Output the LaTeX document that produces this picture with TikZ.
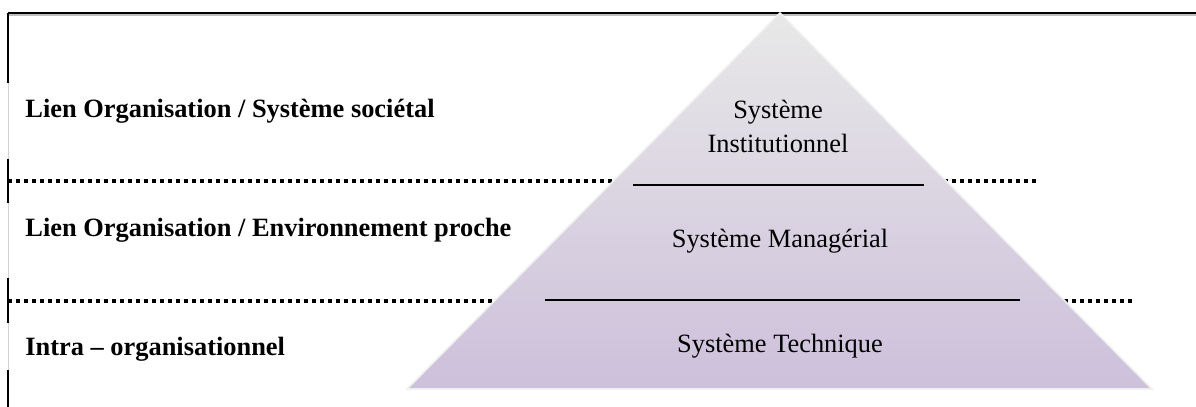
\documentclass[tikz,border=0pt]{standalone}
\usepackage{fontspec}
\setmainfont{Liberation Serif}
\begin{document}
\begin{tikzpicture}[x=0.5pt,y=-0.5pt,
  lbl/.style={anchor=base west,inner sep=0pt,font=\fontsize{13.2}{16.5}\selectfont\bfseries},
  sys/.style={anchor=base,inner sep=0pt,font=\fontsize{13.2}{16.5}\selectfont,align=center},
  dotline/.style={line width=1.8pt,dash pattern=on 2.1pt off 1.9pt},
  solidline/.style={line width=1pt,black},
  blackseg/.style={line width=1pt,black}]
\useasboundingbox (0,0) rectangle (1196,407);
% frame
\draw[gray!35,line width=0.5pt] (8,13) -- (8,407);
\draw[gray!50,line width=0.8pt] (8,15) -- (1196,15);
\draw[blackseg] (8,13) -- (1196,13);
\draw[blackseg] (8,13) -- (8,83);
\draw[blackseg] (8,159) -- (8,203);
\draw[blackseg] (8,278) -- (8,323);
\draw[blackseg] (8,370) -- (8,407);
% dotted lines
\coordinate (d1a) at (8,181); \coordinate (d1b) at (1037,181);
\coordinate (d2a) at (8,301); \coordinate (d2b) at (1133,301);
\draw[dotline] (d1a) -- (d1b);
\draw[dotline] (d2a) -- (d2b);
% pyramid
\coordinate (apex) at (780,13);
\coordinate (bl) at (407,389);
\coordinate (br) at (1152,389);
\shade[top color={rgb,255:red,232;green,232;blue,232}, bottom color={rgb,255:red,205;green,192;blue,219}]
  (apex) -- (br) -- (bl) -- cycle;
\draw[white!88!gray,line width=0.8pt] (bl) -- (apex) -- (br) -- cycle;
% inner lines
\coordinate (s1a) at (633,185); \coordinate (s1b) at (924,185);
\coordinate (s2a) at (545,300); \coordinate (s2b) at (1020,300);
\draw[solidline] (s1a) -- (s1b);
\draw[solidline] (s2a) -- (s2b);
% left labels
\node[lbl] (l1) at (25,117) {Lien Organisation / Système sociétal};
\node[lbl] (l2) at (25,236) {Lien Organisation / Environnement proche};
\node[lbl] (l3) at (25,355) {Intra – organisationnel};
% pyramid labels
\node[sys] (inst1) at (778,119) {Système};
\node[sys] (inst2) at (778,152) {Institutionnel};
\node[sys] (man) at (780,247) {Système Managérial};
\node[sys] (tech) at (780,352) {Système Technique};
\end{tikzpicture}
\end{document}
